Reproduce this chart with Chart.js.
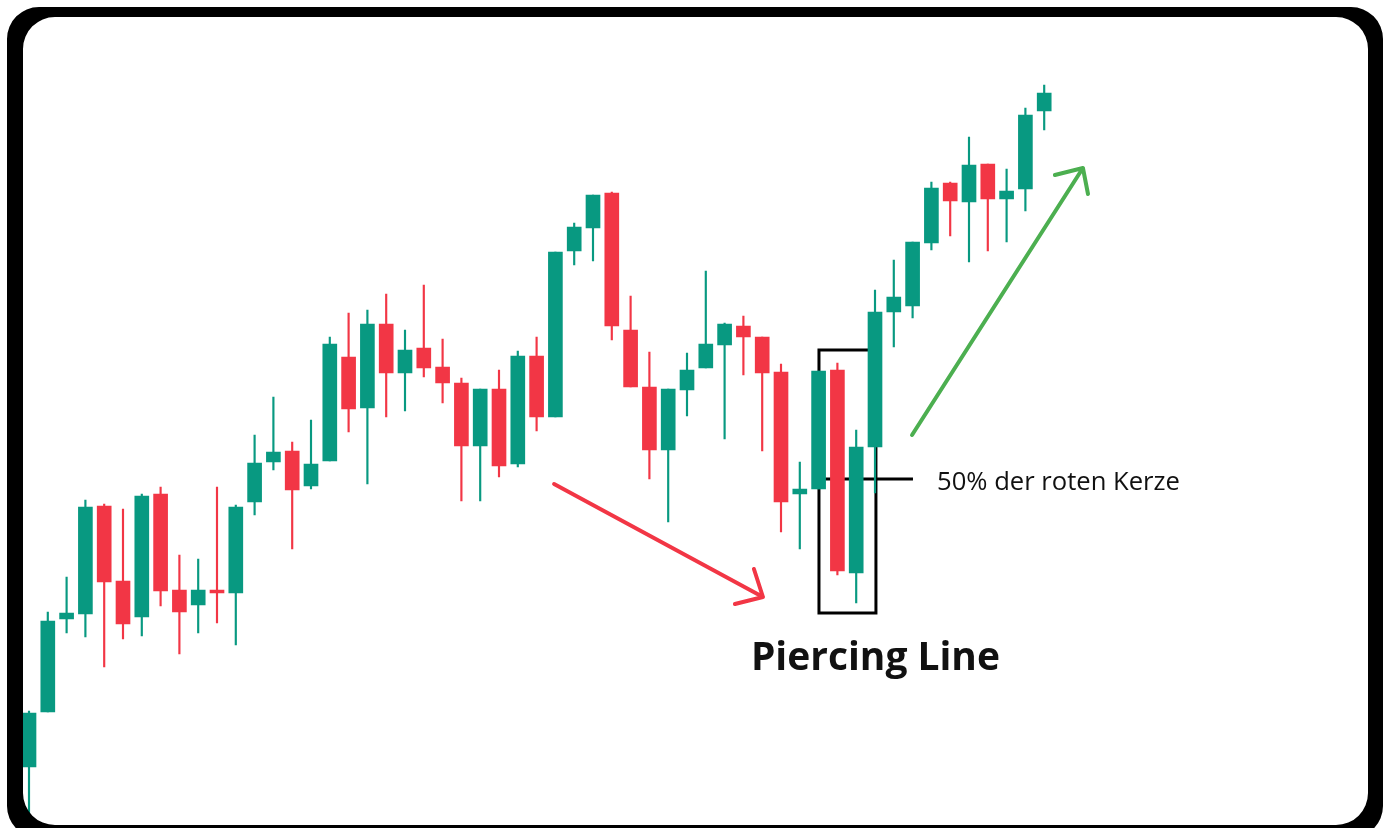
<!DOCTYPE html>
<html>
<head>
<meta charset="utf-8">
<script src="https://cdn.jsdelivr.net/npm/chart.js@4.4.1/dist/chart.umd.min.js"></script>
<style>
  html, body { margin: 0; padding: 0; background: #ffffff; }
  #wrap { position: relative; width: 1389px; height: 828px; overflow: hidden; }
</style>
</head>
<body>
<div id="wrap"><canvas id="c"></canvas></div>
<script>
// ---- data (price units) ----
const categories = Array.from({length: 55}, (_, i) => 'T' + (i + 1));
const openValues  = [61,116,209,214,322,247,211,334,238,223,238,235,326,366,377,342,367,471,420,504,455,480,461,445,382,439,364,472,411,577,600,635,498,441,378,438,460,483,502,491,456,334,339,458,255,381,516,522,585,645,626,664,629,639,717];
const highValues  = [117,216,251,328,324,319,334,341,273,269,341,323,393,431,386,408,491,515,518,534,498,543,489,450,439,458,477,491,576,605,633,636,532,476,439,475,557,505,512,491,464,366,457,465,398,538,568,586,646,646,691,664,659,720,743];
const lowValues   = [8,116,195,191,161,189,192,222,174,195,205,183,313,358,279,339,367,396,344,411,417,451,425,327,327,351,361,397,411,563,567,488,441,349,306,412,460,389,453,377,296,279,339,253,225,335,481,510,578,592,566,577,586,617,698];
const closeValues = [115,207,215,321,246,204,332,237,216,238,235,321,365,376,338,364,484,419,504,455,478,460,445,382,439,362,472,411,576,601,633,502,441,378,439,458,484,504,491,455,326,339,457,257,381,516,531,586,640,627,663,629,637,713,735];

// annotations in data units: [categoryIndex, price]
const patternBox = { x0: 42.02, x1: 45.05, yTop: 478, yBottom: 215 };
const halfLine = { x0: 42.34, x1: 47.02, y: 349 };
const halfLabel = { x: 48.3, xEnd: 61.22, y: 338, text: '50% der roten Kerze' };
const titleLabel = { x: 38.4, xEnd: 51.65, y: 158, text: 'Piercing Line' };
const redArrow = { from: [27.93, 344], to: [39.04, 231], armA: [38.56, 259], armB: [37.55, 224] };
const greenArrow = { from: [46.97, 393], to: [56.06, 660], armA: [54.57, 653], armB: [56.33, 634] };

const UP = '#089981', DOWN = '#f23645';
const colors = openValues.map((o, i) => closeValues[i] >= o ? UP : DOWN);

const annotationPlugin = {
  id: 'annot',
  beforeDatasetsDraw(chart) {
    const {ctx, scales: {x, y}} = chart;
    ctx.save();
    ctx.strokeStyle = '#000';
    ctx.lineWidth = 3;
    ctx.strokeRect(x.getPixelForValue(patternBox.x0), y.getPixelForValue(patternBox.yTop),
      x.getPixelForValue(patternBox.x1) - x.getPixelForValue(patternBox.x0),
      y.getPixelForValue(patternBox.yBottom) - y.getPixelForValue(patternBox.yTop));
    ctx.beginPath();
    ctx.moveTo(x.getPixelForValue(halfLine.x0), y.getPixelForValue(halfLine.y));
    ctx.lineTo(x.getPixelForValue(halfLine.x1), y.getPixelForValue(halfLine.y));
    ctx.stroke();
    ctx.restore();
  },
  afterDatasetsDraw(chart) {
    const {ctx, scales: {x, y}} = chart;
    const P = (p) => [x.getPixelForValue(p[0]), y.getPixelForValue(p[1])];
    const arrow = (a, color) => {
      ctx.save();
      ctx.strokeStyle = color;
      ctx.lineWidth = 4;
      ctx.lineCap = 'round';
      ctx.lineJoin = 'round';
      const f = P(a.from), t = P(a.to), aa = P(a.armA), ab = P(a.armB);
      ctx.beginPath();
      ctx.moveTo(f[0], f[1]); ctx.lineTo(t[0], t[1]);
      ctx.moveTo(aa[0], aa[1]); ctx.lineTo(t[0], t[1]); ctx.lineTo(ab[0], ab[1]);
      ctx.stroke();
      ctx.restore();
    };
    arrow(redArrow, '#f23645');
    arrow(greenArrow, '#4caf50');
    const fitText = (lbl, weight, family, baseSize) => {
      const x0 = x.getPixelForValue(lbl.x), x1 = x.getPixelForValue(lbl.xEnd);
      ctx.font = weight + ' ' + baseSize + 'px ' + family;
      const w = ctx.measureText(lbl.text).width;
      const size = baseSize * (x1 - x0) / w;
      ctx.font = weight + ' ' + size.toFixed(2) + 'px ' + family;
      ctx.fillText(lbl.text, x0, y.getPixelForValue(lbl.y));
    };
    ctx.save();
    ctx.fillStyle = '#111';
    ctx.textBaseline = 'alphabetic';
    ctx.textAlign = 'left';
    fitText(halfLabel, 'normal', '"Open Sans"', 22);
    fitText(titleLabel, 'bold', '"Open Sans"', 36);
    ctx.restore();
  },
  afterDraw(chart) {
    const ctx = chart.ctx;
    const rr = (x0, y0, x1, y1, r) => {
      ctx.moveTo(x0 + r, y0);
      ctx.lineTo(x1 - r, y0);
      ctx.arcTo(x1, y0, x1, y0 + r, r);
      ctx.lineTo(x1, y1 - r);
      ctx.arcTo(x1, y1, x1 - r, y1, r);
      ctx.lineTo(x0 + r, y1);
      ctx.arcTo(x0, y1, x0, y1 - r, r);
      ctx.lineTo(x0, y0 + r);
      ctx.arcTo(x0, y0, x0 + r, y0, r);
      ctx.closePath();
    };
    ctx.save();
    ctx.beginPath();
    ctx.rect(0, 0, 1389, 828);
    rr(7, 7, 1383, 838, 32);
    ctx.fillStyle = '#fff';
    ctx.fill('evenodd');
    ctx.beginPath();
    rr(7, 7, 1383, 838, 32);
    rr(23, 17, 1368, 825, 32);
    ctx.fillStyle = '#000';
    ctx.fill('evenodd');
    ctx.restore();
  }
};

new Chart(document.getElementById('c'), {
  type: 'bar',
  data: {
    labels: categories,
    datasets: [
      {
        label: 'Body',
        data: openValues.map((o, i) => [o, closeValues[i]]),
        backgroundColor: colors,
        borderWidth: 0,
        barThickness: 14,
        grouped: false,
        order: 0
      },
      {
        label: 'Wick',
        data: lowValues.map((l, i) => [l, highValues[i]]),
        backgroundColor: colors,
        borderWidth: 0,
        barThickness: 1.5,
        grouped: false,
        order: 1
      }
    ]
  },
  options: {
    responsive: true,
    maintainAspectRatio: false,
    animation: false,
    layout: { padding: { left: 19.6, right: 335.4, top: 0, bottom: 0 } },
    plugins: { legend: { display: false }, tooltip: { enabled: false } },
    scales: {
      x: { display: false, offset: true },
      y: { display: false, min: 0, max: 828 }
    }
  },
  plugins: [annotationPlugin]
});
</script>
</body>
</html>
